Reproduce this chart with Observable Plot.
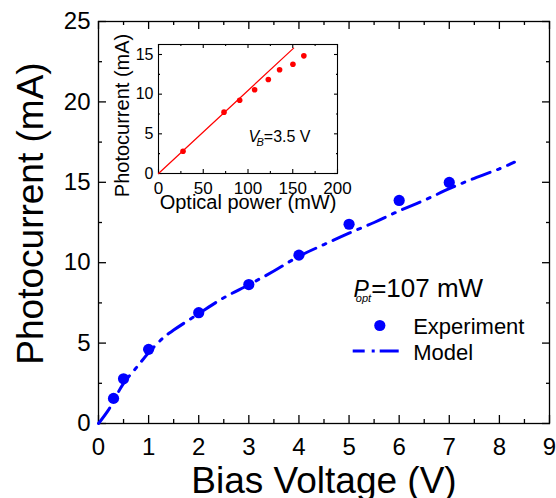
<!DOCTYPE html>
<html><head><meta charset="utf-8">
<script src="https://cdn.jsdelivr.net/npm/d3@7"></script>
<script src="https://cdn.jsdelivr.net/npm/@observablehq/plot@0.6"></script>
<style>
body{margin:0;background:#fff;}
#wrap{position:relative;width:556px;height:498px;}
#inset{position:absolute;left:100px;top:20px;}
</style></head><body><div id="wrap"><div id="main"></div><div id="inset"></div></div>
<script>
// Main chart data
const biasV  = [0.3, 0.5, 1, 2, 3, 4, 5, 6, 7];
const photoI = [1.56, 2.78, 4.61, 6.89, 8.64, 10.47, 12.39, 13.87, 14.99];
const modelV = [0, 0.2, 0.3, 0.5, 0.75, 1, 1.3, 1.5, 2, 2.5, 3, 3.5, 4, 4.5, 5, 5.5, 6, 6.5, 7, 7.5, 8, 8.3];
const modelI = [0, 0.85, 1.4, 2.5, 3.45, 4.4, 5.35, 5.81, 6.83, 7.82, 8.63, 9.48, 10.4, 11.13, 11.84, 12.5, 13.22, 13.88, 14.6, 15.25, 15.84, 16.25];
// Inset data
const optP   = [27.4, 73.2, 90.7, 107.4, 122.7, 135.3, 150.2, 162.4];
const insetI = [2.81, 7.73, 9.24, 10.55, 11.85, 13.07, 13.78, 14.83];
const fitP   = [0, 151];
const fitI   = [0, 15.8];
// Ticks
const xTicks = [0, 1, 2, 3, 4, 5, 6, 7, 8, 9];
const xMinor = [0.5, 1.5, 2.5, 3.5, 4.5, 5.5, 6.5, 7.5, 8.5];
const yTicks = [0, 5, 10, 15, 20, 25];
const yMinor = [2.5, 7.5, 12.5, 17.5, 22.5];
const ixTicks = [0, 50, 100, 150, 200];
const ixMinor = [25, 75, 125, 175];
const iyTicks = [0, 5, 10, 15];
const iyMinor = [2.5, 7.5, 12.5];

const FONT = '"Liberation Sans", Arial, sans-serif';
const BLUE = "#0000ff", RED = "#ff0000";

const mainData = biasV.map((v, i) => ({v, i: photoI[i]}));
const modelData = modelV.map((v, i) => ({v, i: modelI[i]}));
const insetData = optP.map((p, i) => ({p, i: insetI[i]}));
const fitData = fitP.map((p, i) => ({p, i: fitI[i]}));

// inward-pointing tick marks: outward ticks shifted inside the frame
function tk(anchor, data, size, sw) {
  const base = {anchor, tickSize: size, fill: "none", label: null, strokeWidth: sw, stroke: "black"};
  if (anchor === "bottom") return Plot.axisX(data, {...base, dy: -size});
  if (anchor === "top") return Plot.axisX(data, {...base, dy: size - 1});
  if (anchor === "left") return Plot.axisY(data, {...base, dx: size});
  return Plot.axisY(data, {...base, dx: -size});
}

const main = Plot.plot({
  width: 556, height: 498,
  marginLeft: 98, marginRight: 7, marginTop: 21, marginBottom: 75,
  style: {fontFamily: FONT, background: "white", color: "black"},
  x: {domain: [0, 9]},
  y: {domain: [0, 25]},
  marks: [
    tk("bottom", xTicks, 8, 1.3), tk("bottom", xMinor, 4, 1.3),
    tk("top", xTicks, 8, 1.3), tk("top", xMinor, 4, 1.3),
    tk("left", yTicks, 8, 1.3), tk("left", yMinor, 4, 1.3),
    tk("right", yTicks, 8, 1.3), tk("right", yMinor, 4, 1.3),
    Plot.frame({stroke: "black", strokeWidth: 1.3}),
    Plot.axisX(xTicks, {anchor: "bottom", tickSize: 0, tickPadding: 14, fontSize: 24, label: null}),
    Plot.axisY(yTicks, {anchor: "left", tickSize: 0, tickPadding: 8, fontSize: 24, label: null}),
    Plot.text(["Bias Voltage (V)"], {text: d => d, frameAnchor: "bottom", dy: 69.5, lineAnchor: "bottom", fontSize: 37}),
    Plot.text(["Photocurrent (mA)"], {text: d => d, frameAnchor: "left", rotate: -90, dx: -56, dy: -9, lineAnchor: "bottom", textAnchor: "middle", fontSize: 37}),
    Plot.line(modelData, {x: "v", y: "i", stroke: BLUE, strokeWidth: 3, strokeDasharray: "19,8,3,8", curve: "catmull-rom"}),
    Plot.dot(mainData, {x: "v", y: "i", r: 5.6, fill: BLUE}),
    // legend / annotation
    Plot.text(["POPT"], {text: d => d, frameAnchor: "top-left", dx: 255, dy: 275.7, textAnchor: "start", lineAnchor: "bottom", fontSize: 26}),
    Plot.dot([0], {frameAnchor: "top-left", dx: 281.3, dy: 304, r: 5.6, fill: BLUE}),
    Plot.text(["Experiment"], {text: d => d, frameAnchor: "top-left", dx: 314.7, dy: 312, textAnchor: "start", lineAnchor: "bottom", fontSize: 22}),
    Plot.text(["Model"], {text: d => d, frameAnchor: "top-left", dx: 314.7, dy: 338.3, textAnchor: "start", lineAnchor: "bottom", fontSize: 22})
  ]
});
document.getElementById("main").appendChild(main);

// rich text for P_opt
d3.select(main).selectAll("text").filter(function() { return this.textContent === "POPT"; })
  .html('<tspan font-style="italic" font-size="23">P</tspan><tspan font-style="italic" font-size="11" dx="-13" dy="5">opt</tspan><tspan dy="-5">=107 mW</tspan>');
// legend line swatch
d3.select(main).append("line")
  .attr("x1", 352.7).attr("x2", 400).attr("y1", 351).attr("y2", 351)
  .attr("stroke", BLUE).attr("stroke-width", 3)
  .attr("stroke-dasharray", "19,7,3,5").attr("stroke-dashoffset", 7);

const inset = Plot.plot({
  width: 250, height: 200,
  marginLeft: 58, marginRight: 13, marginTop: 24, marginBottom: 47,
  style: {fontFamily: FONT, background: "transparent", color: "black", overflow: "visible"},
  x: {domain: [0, 200]},
  y: {domain: [0, 16.26]},
  marks: [
    Plot.frame({fill: "white", stroke: "none"}),
    tk("bottom", ixTicks, 4, 1.1), tk("bottom", ixMinor, 2, 1.1),
    tk("top", ixTicks, 4, 1.1), tk("top", ixMinor, 2, 1.1),
    tk("left", iyTicks, 4, 1.1), tk("left", iyMinor, 2, 1.1),
    tk("right", iyTicks, 4, 1.1), tk("right", iyMinor, 2, 1.1),
    Plot.frame({stroke: "black", strokeWidth: 1.1}),
    Plot.axisX(ixTicks, {anchor: "bottom", tickSize: 0, tickPadding: 8, fontSize: 17, label: null}),
    Plot.axisY(iyTicks, {anchor: "left", tickSize: 0, tickPadding: 5, fontSize: 16, label: null}),
    Plot.text(["Optical power (mW)"], {text: d => d, frameAnchor: "bottom", dy: 35, lineAnchor: "bottom", fontSize: 20}),
    Plot.text(["Photocurrent (mA)"], {text: d => d, frameAnchor: "left", rotate: -90, dx: -30, dy: 6.5, lineAnchor: "bottom", textAnchor: "middle", fontSize: 20}),
    Plot.line(fitData, {x: "p", y: "i", stroke: RED, strokeWidth: 1.2}),
    Plot.dot(insetData, {x: "p", y: "i", r: 2.8, fill: RED}),
    Plot.text(["VB"], {text: d => d, frameAnchor: "top-left", dx: 90, dy: 97.7, textAnchor: "start", lineAnchor: "bottom", fontSize: 16})
  ]
});
document.getElementById("inset").appendChild(inset);
d3.select(inset).selectAll("text").filter(function() { return this.textContent === "VB"; })
  .html('<tspan font-style="italic">V</tspan><tspan font-style="italic" font-size="11" dx="-2.7" dy="4">B</tspan><tspan dy="-4">=3.5 V</tspan>');
</script>
</body></html>
